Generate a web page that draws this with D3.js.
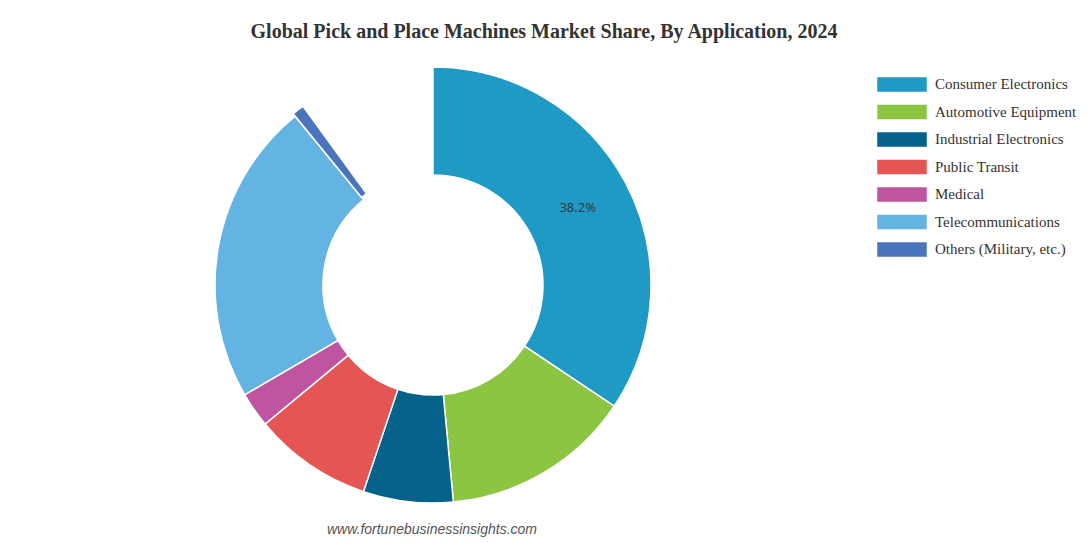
<!DOCTYPE html>
<html>
<head>
<meta charset="utf-8">
<script src="https://cdn.jsdelivr.net/npm/d3@7"></script>
<style>
  body { margin: 0; background: #fff; }
  svg { display: block; }
</style>
</head>
<body>
<svg width="1088" height="543"></svg>
<script>
// data
const categories = ["Consumer Electronics", "Automotive Equipment", "Industrial Electronics",
  "Public Transit", "Medical", "Telecommunications", "Others (Military, etc.)"];
const shares = [38.2, 15.7, 7.4, 9.8, 2.9, 25.0, 1.0];
const colors = ["#1f9ac4", "#8cc541", "#05628a", "#e45553", "#bf55a0", "#63b3e3", "#4a74bb"];
const labelled = ["Consumer Electronics"];

const svg = d3.select("svg");

const cx = 433, cy = 285;
const outer = 218, inner = 110;

// title
svg.append("text")
  .attr("x", 544)
  .attr("y", 38)
  .attr("text-anchor", "middle")
  .attr("font-family", "'Liberation Serif', 'Times New Roman', serif")
  .attr("font-weight", "bold")
  .attr("font-size", 20)
  .attr("fill", "#333")
  .text("Global Pick and Place Machines Market Share, By Application, 2024");

const data = categories.map((c, i) => ({ name: c, value: shares[i], color: colors[i] }));

// chart only spans 90% of the circle
const pie = d3.pie()
  .value(d => d.value)
  .sort(null)
  .startAngle(0)
  .endAngle(Math.PI * 2 * 0.9);

const arc = d3.arc().innerRadius(inner).outerRadius(outer);

const g = svg.append("g").attr("transform", `translate(${cx},${cy})`);

g.selectAll("path")
  .data(pie(data))
  .join("path")
  .attr("d", arc)
  .attr("fill", d => d.data.color)
  .attr("stroke", "#fff")
  .attr("stroke-width", 1.5)
  .attr("transform", d => {
    // small slice is pulled out a little
    if (d.data.name.startsWith("Others")) {
      const a = (d.startAngle + d.endAngle) / 2;
      return `translate(${Math.sin(a) * 3},${-Math.cos(a) * 3})`;
    }
    return null;
  });

g.selectAll("text.val")
  .data(pie(data).filter(d => labelled.includes(d.data.name)))
  .join("text")
  .attr("class", "val")
  .attr("transform", d => `translate(${arc.centroid(d)})`)
  .attr("text-anchor", "middle")
  .attr("dy", "0.35em")
  .attr("font-family", "'Open Sans', 'Liberation Sans', sans-serif")
  .attr("font-size", 13)
  .attr("fill", "#333")
  .text(d => d.data.value.toFixed(1) + "%");

// legend
const legend = svg.append("g").attr("transform", "translate(877,77)");
const row = legend.selectAll("g")
  .data(data)
  .join("g")
  .attr("transform", (d, i) => `translate(0,${i * 27.5})`);

row.append("rect")
  .attr("width", 50)
  .attr("height", 15)
  .attr("fill", d => d.color)
  .attr("stroke", "#fff")
  .attr("stroke-opacity", 0.5);

row.append("text")
  .attr("x", 58)
  .attr("y", 12)
  .attr("font-family", "'Liberation Serif', 'Times New Roman', serif")
  .attr("font-size", 15)
  .attr("fill", "#333")
  .text(d => d.name);

// source
svg.append("text")
  .attr("x", 432)
  .attr("y", 534)
  .attr("text-anchor", "middle")
  .attr("font-family", "'Liberation Sans', Arial, sans-serif")
  .attr("font-style", "italic")
  .attr("font-size", 14)
  .attr("fill", "#555")
  .text("www.fortunebusinessinsights.com");
</script>
</body>
</html>
